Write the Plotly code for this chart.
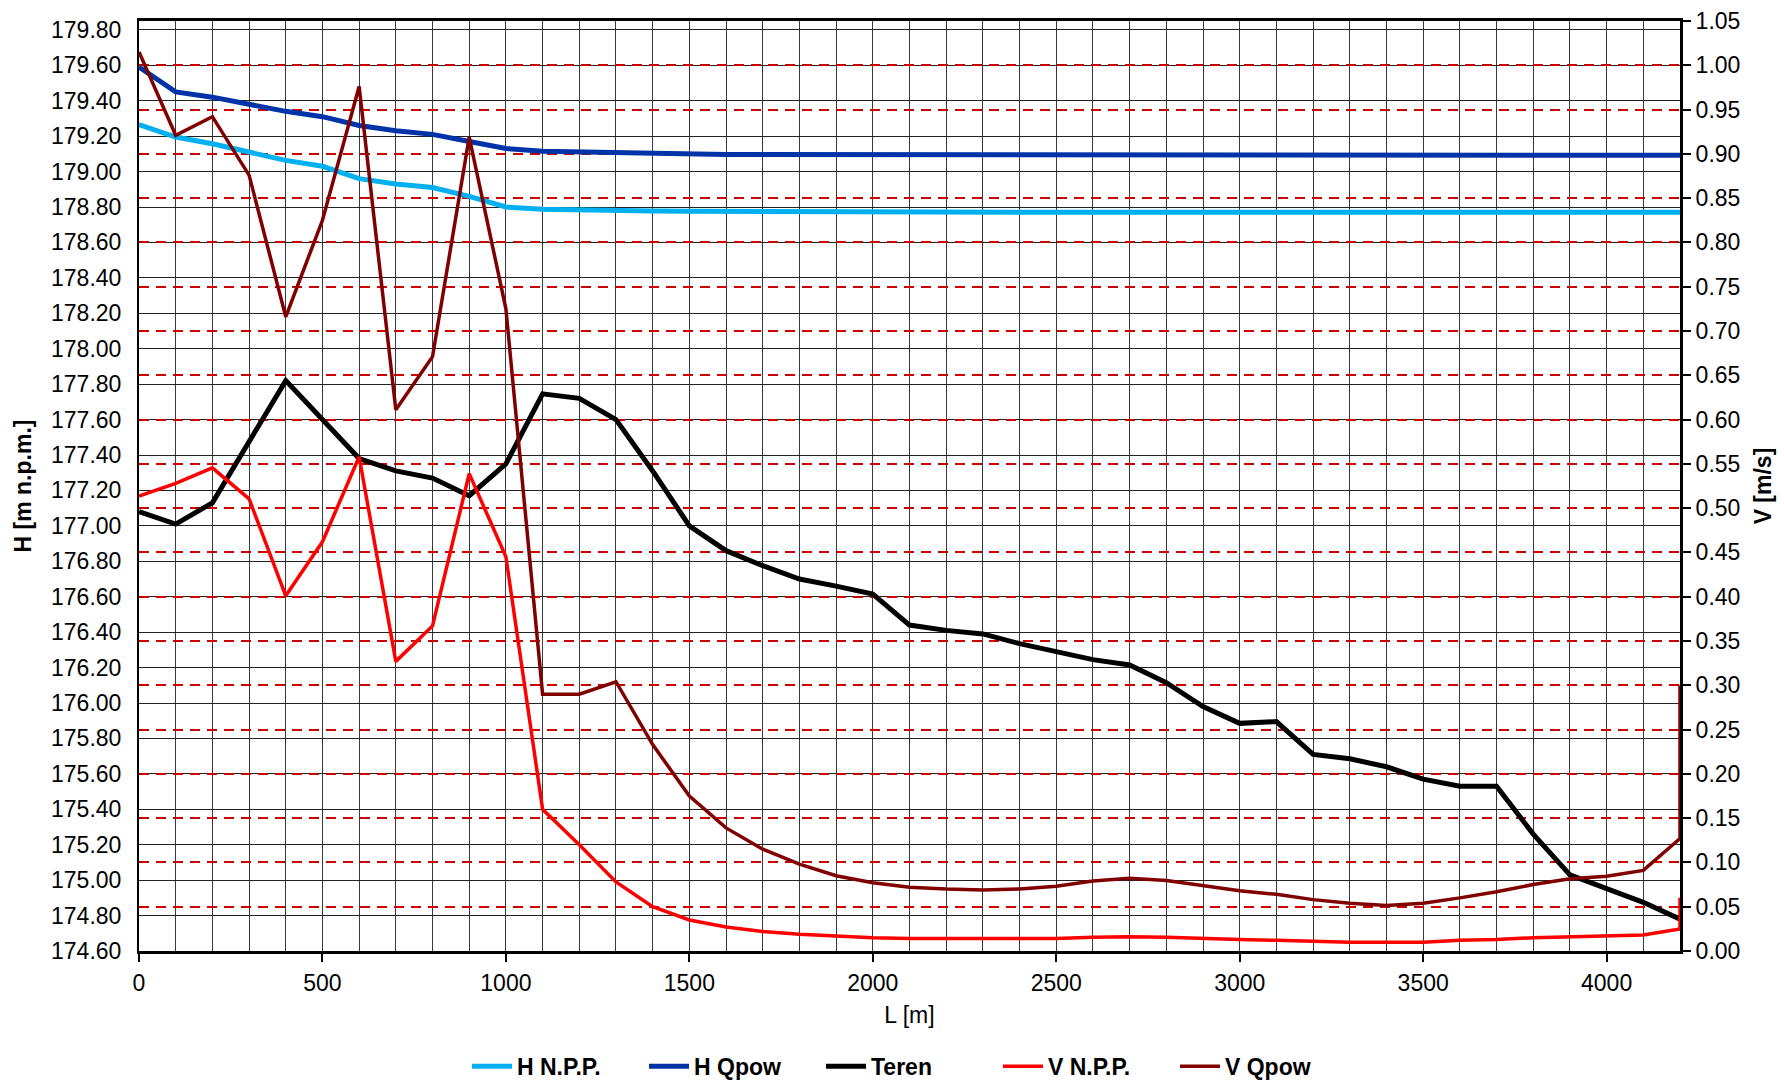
import plotly.graph_objects as go

L = [0, 100, 200, 300, 400, 500, 600, 700, 800, 900, 1000, 1100, 1200, 1300, 1400,
     1500, 1600, 1700, 1800, 1900, 2000, 2100, 2200, 2300, 2400, 2500, 2600, 2700,
     2800, 2900, 3000, 3100, 3200, 3300, 3400, 3500, 3600, 3700, 3800, 3900, 4000,
     4100, 4200]
# final vertical spike of velocity curves at the end of the reach
L_V = L + [4200]

H_NPP = [179.265, 179.195, 179.157, 179.11, 179.063, 179.03, 178.96, 178.93, 178.91,
         178.86, 178.80, 178.787, 178.782, 178.78, 178.778, 178.776, 178.775, 178.774,
         178.772, 178.77, 178.77, 178.77, 178.77, 178.77, 178.77, 178.77, 178.77,
         178.77, 178.77, 178.77, 178.77, 178.77, 178.77, 178.77, 178.77, 178.77,
         178.77, 178.77, 178.77, 178.77, 178.77, 178.77, 178.77]

H_Qpow = [179.59, 179.45, 179.42, 179.38, 179.34, 179.31, 179.26, 179.23, 179.21,
          179.17, 179.13, 179.115, 179.11, 179.105, 179.10, 179.097, 179.096, 179.096,
          179.096, 179.096, 179.096, 179.096, 179.094, 179.094, 179.094, 179.094,
          179.094, 179.094, 179.094, 179.094, 179.094, 179.094, 179.094, 179.094,
          179.094, 179.094, 179.093, 179.092, 179.092, 179.092, 179.092, 179.092,
          179.092]

Teren = [177.08, 177.01, 177.13, 177.48, 177.82, 177.60, 177.38, 177.31, 177.27,
         177.17, 177.35, 177.745, 177.72, 177.60, 177.31, 177.00, 176.86, 176.775,
         176.70, 176.66, 176.615, 176.44, 176.41, 176.39, 176.335, 176.29, 176.245,
         176.215, 176.115, 175.98, 175.885, 175.895, 175.71, 175.685, 175.64, 175.57,
         175.53, 175.53, 175.26, 175.03, 174.955, 174.875, 174.78]

V_NPP = [0.5135, 0.528, 0.5455, 0.5105, 0.401, 0.462, 0.558, 0.327, 0.367, 0.539,
         0.445, 0.160, 0.120, 0.078, 0.050, 0.035, 0.027, 0.022, 0.019, 0.017, 0.015,
         0.014, 0.014, 0.014, 0.014, 0.014, 0.0155, 0.016, 0.0155, 0.014, 0.013,
         0.012, 0.011, 0.010, 0.010, 0.010, 0.012, 0.013, 0.015, 0.016, 0.017, 0.018,
         0.025, 0.060]

V_Qpow = [1.015, 0.921, 0.942, 0.876, 0.716, 0.825, 0.976, 0.611, 0.671, 0.919,
          0.725, 0.290, 0.290, 0.304, 0.233, 0.175, 0.139, 0.115, 0.098, 0.085,
          0.077, 0.072, 0.070, 0.069, 0.070, 0.073, 0.079, 0.082, 0.0795, 0.0735,
          0.068, 0.064, 0.058, 0.054, 0.0515, 0.054, 0.060, 0.067, 0.075, 0.0815,
          0.0845, 0.091, 0.127, 0.300]

x_ticks = [0, 500, 1000, 1500, 2000, 2500, 3000, 3500, 4000]

FONT = "Liberation Sans, Arial, sans-serif"

fig = go.Figure()
fig.add_trace(go.Scatter(x=L, y=H_NPP, name="H N.P.P.", mode="lines",
                         line=dict(color="#00B0F0", width=5)))
fig.add_trace(go.Scatter(x=L, y=H_Qpow, name="H Qpow", mode="lines",
                         line=dict(color="#0033A8", width=5)))
fig.add_trace(go.Scatter(x=L, y=Teren, name="Teren", mode="lines",
                         line=dict(color="#000000", width=5)))
fig.add_trace(go.Scatter(x=L_V, y=V_NPP, name="V N.P.P.", mode="lines", yaxis="y2",
                         line=dict(color="#FF0000", width=3.5)))
fig.add_trace(go.Scatter(x=L_V, y=V_Qpow, name="V Qpow", mode="lines", yaxis="y2",
                         line=dict(color="#800000", width=3.5)))

fig.update_layout(
    width=1784, height=1080,
    margin=dict(l=139, r=104, t=21, b=129, autoexpand=False),
    paper_bgcolor="white", plot_bgcolor="white",
    font=dict(family=FONT, size=23, color="#000000"),
    showlegend=True,
    legend=dict(orientation="h", x=0.5, xanchor="center", y=-0.124, yanchor="middle",
                font=dict(family=FONT, size=23, color="#000000", weight="bold"),
                itemwidth=40, tracegroupgap=0, entrywidth=122, entrywidthmode="pixels"),
    xaxis=dict(
        range=[0, 4200], tickvals=x_ticks, ticktext=[str(v) for v in x_ticks],
        ticks="outside", ticklen=8, tickwidth=2, tickcolor="#000000",
        ticklabelstandoff=1,
        showgrid=True, gridcolor="#3a3a3a", gridwidth=1,
        minor=dict(dtick=100, tick0=0, showgrid=True, gridcolor="#3a3a3a", gridwidth=1),
        showline=True, linecolor="#000000", linewidth=3, mirror=True,
        zeroline=False,
        title=dict(text="L [m]", font=dict(family=FONT, size=23), standoff=13),
    ),
    yaxis=dict(
        range=[174.6, 179.85], dtick=0.2, tick0=174.6, tickformat=".2f",
        ticks="", showgrid=True, gridcolor="#222222", gridwidth=1,
        showline=True, linecolor="#000000", linewidth=2, zeroline=False,
        ticklabelstandoff=11,
        title=dict(text="H [m n.p.m.]", font=dict(family=FONT, size=23, weight="bold"),
                   standoff=13),
    ),
    yaxis2=dict(
        range=[0, 1.05], dtick=0.05, tick0=0, tickformat=".2f", overlaying="y",
        side="right", ticks="outside", ticklen=8, tickwidth=2, tickcolor="#000000",
        showgrid=True, gridcolor="#CC0000", gridwidth=2, griddash="10px,7px",
        showline=True, linecolor="#000000", linewidth=3, zeroline=False,
        title=dict(text="V [m/s]", font=dict(family=FONT, size=23, weight="bold"),
                   standoff=16),
    ),
)

fig.write_html("out.html")
